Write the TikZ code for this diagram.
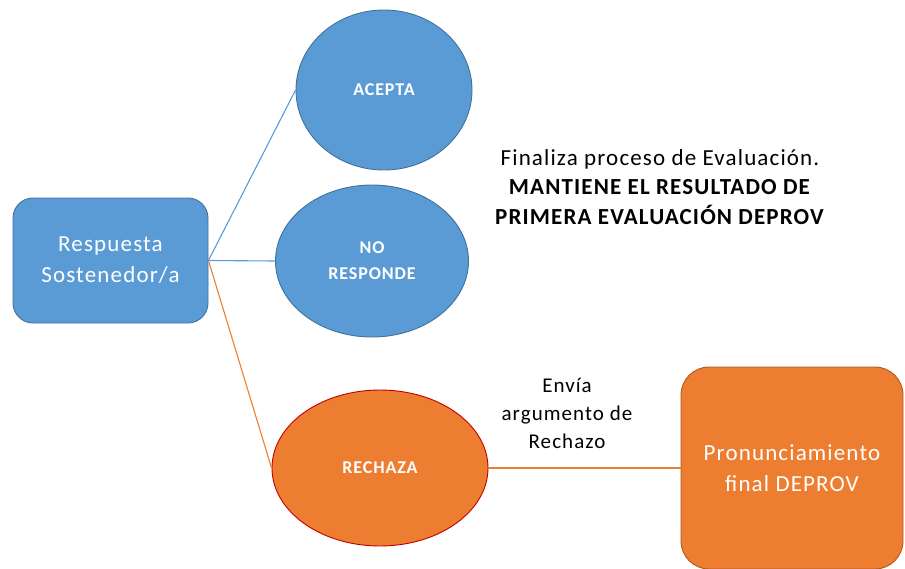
\documentclass[tikz,border=0pt]{standalone}
\usepackage{fontspec}
\setmainfont{Carlito}[LetterSpace=5]
\usetikzlibrary{shapes.geometric,positioning}
\definecolor{azul}{HTML}{5B9BD5}
\definecolor{azulborde}{HTML}{41719C}
\definecolor{naranjo}{HTML}{ED7D31}
\definecolor{naranjoborde}{HTML}{AE5A21}
\definecolor{rojoborde}{HTML}{C00000}
\tikzset{
  caja/.style={draw, line width=0.9pt, rounded corners=20pt, align=center,
    text=white, font=\fontsize{23}{31}\selectfont},
  globo/.style={ellipse, draw, line width=0.9pt, align=center, text=white,
    font=\fontsize{18}{26}\selectfont\bfseries, inner sep=0pt},
  rama/.style={line width=1.1pt}
}

\begin{document}
\begin{tikzpicture}[x=1pt, y=-1pt]
      \useasboundingbox (0,0) rectangle (905,568);
      \node[caja, fill=azul, draw=azulborde, minimum width=195pt, minimum height=125pt]
            (resp) at (110.5,260.5) {Respuesta\\Sostenedor/a};  %origen
      \node[globo, fill=azul, draw=azulborde, minimum width=176pt, minimum height=160pt]
            (acepta) at (384,90) {ACEPTA};
      \node[globo, fill=azul, draw=azulborde, minimum width=193pt, minimum height=152pt]
            (noresp) at (372,261) {NO\\RESPONDE};
      \node[globo, fill=naranjo, draw=rojoborde, minimum width=216pt, minimum height=156pt]
            (rechaza) at (380,468) {RECHAZA};
      \node[caja, fill=naranjo, draw=naranjoborde, rounded corners=28pt,
            minimum width=222pt, minimum height=202pt]
            (pron) at (792,468) {Pronunciamiento\\final DEPROV};
      \node[align=center, font=\fontsize{23}{29.5}\selectfont]
            (fin) at (660,187) {Finaliza proceso de Evaluación.\\\textbf{MANTIENE EL RESULTADO DE}\\\textbf{PRIMERA EVALUACIÓN DEPROV}};
      \node[align=center, font=\fontsize{21}{28}\selectfont]
            (envia) at (567,413) {Envía\\argumento de\\Rechazo};

      \draw[rama, azul] (resp.east) -- (acepta.west);
      \draw[rama, azul] (resp.east) -- (noresp.west);
      \draw[rama, naranjo] (resp.east) -- (rechaza.west);
      \draw[rama, naranjo] (rechaza.east) -- (pron.west);
\end{tikzpicture}
\end{document}
